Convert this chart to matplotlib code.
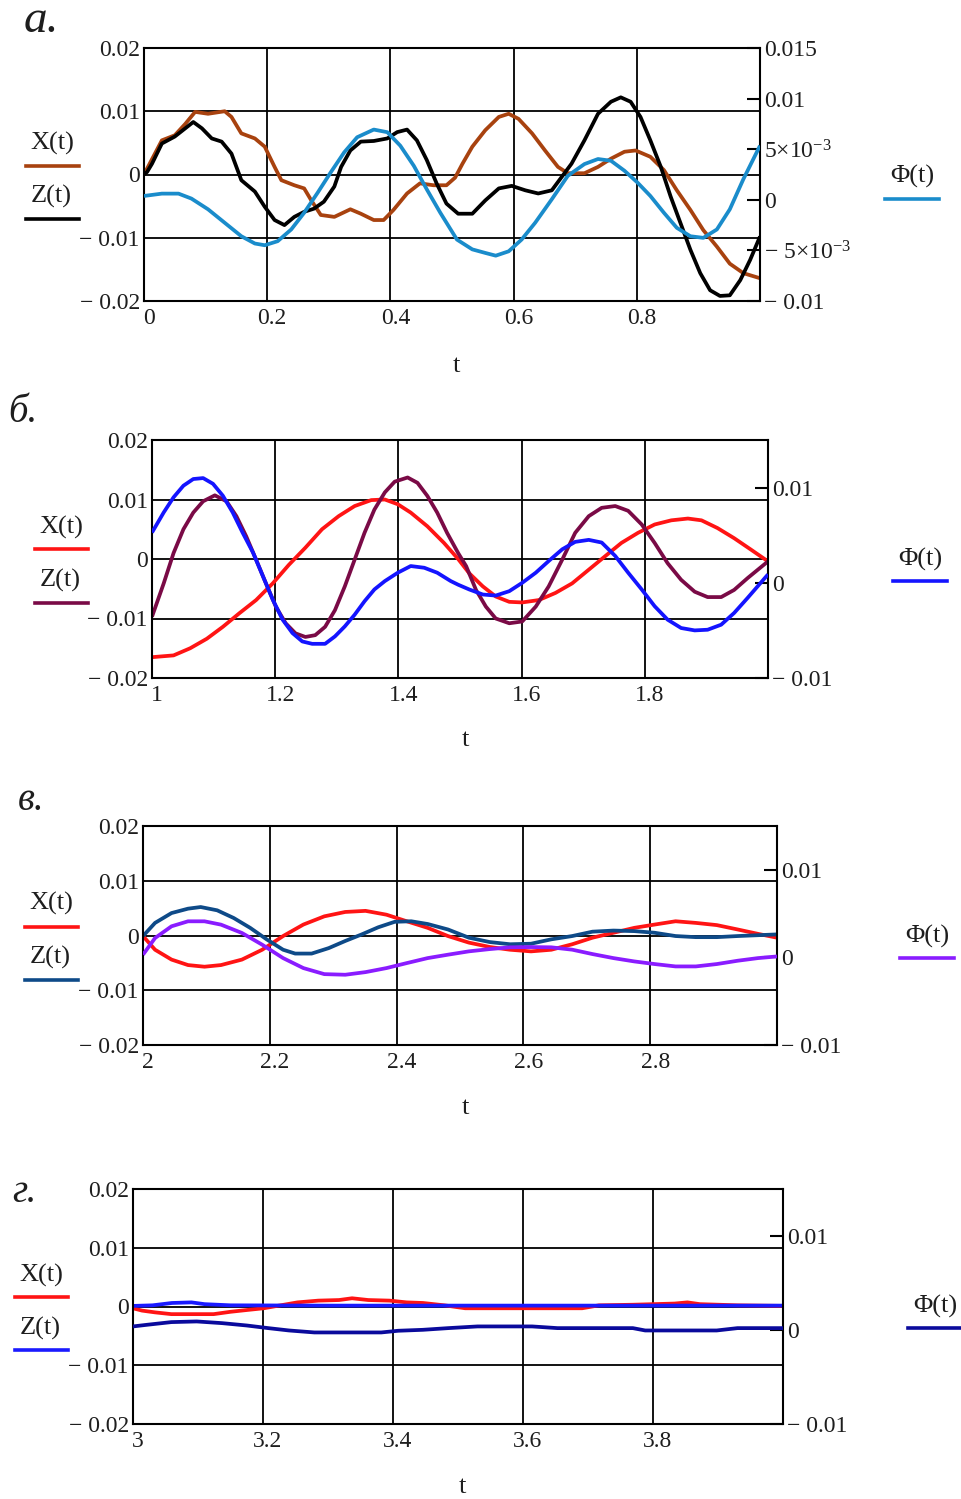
import matplotlib
matplotlib.use("Agg")
import matplotlib.pyplot as plt
from matplotlib.lines import Line2D
from matplotlib.transforms import ScaledTranslation

plt.rcParams['font.family'] = ['Liberation Serif', 'DejaVu Serif']
plt.rcParams['mathtext.fontset'] = 'custom'
plt.rcParams['mathtext.rm'] = 'Liberation Serif'
plt.rcParams['mathtext.it'] = 'Liberation Serif:italic'

# ---------------- DATA ----------------
# Panel a  (t in 0..1)
ta_X = [0.0, 0.029, 0.05, 0.067, 0.083, 0.104, 0.131, 0.142, 0.158, 0.18, 0.196, 0.212, 0.223, 0.244,
        0.26, 0.271, 0.287, 0.309, 0.335, 0.352, 0.373, 0.389, 0.405, 0.427, 0.448, 0.47, 0.491, 0.505,
        0.517, 0.533, 0.554, 0.576, 0.592, 0.608, 0.63, 0.651, 0.672, 0.688, 0.715, 0.737, 0.758, 0.78,
        0.798, 0.822, 0.844, 0.865, 0.887, 0.908, 0.93, 0.951, 0.973, 1.0]
Xa = [0.0, 0.0054, 0.0062, 0.0080, 0.0099, 0.0096, 0.0100, 0.0091, 0.0065, 0.0057, 0.0044, 0.0012, -0.0009,
      -0.0017, -0.0022, -0.0040, -0.0064, -0.0067, -0.0055, -0.0062, -0.0072, -0.0072, -0.0056, -0.0030,
      -0.0014, -0.0017, -0.0017, -0.0005, 0.0017, 0.0044, 0.0070, 0.0091, 0.0096, 0.0088, 0.0065, 0.0038,
      0.0012, 0.0002, 0.0002, 0.0012, 0.0025, 0.0036, 0.0038, 0.0028, 0.0007, -0.0025, -0.0056, -0.0088,
      -0.0114, -0.0141, -0.0156, -0.0164]
ta_Z = [0.0, 0.005, 0.013, 0.029, 0.05, 0.067, 0.08, 0.094, 0.11, 0.126, 0.142, 0.158, 0.18, 0.196, 0.212,
        0.228, 0.244, 0.26, 0.276, 0.292, 0.309, 0.32, 0.335, 0.352, 0.373, 0.395, 0.411, 0.427, 0.443,
        0.459, 0.475, 0.491, 0.51, 0.533, 0.554, 0.576, 0.597, 0.619, 0.64, 0.662, 0.678, 0.694, 0.715,
        0.737, 0.758, 0.774, 0.79, 0.806, 0.822, 0.839, 0.855, 0.871, 0.887, 0.903, 0.919, 0.935, 0.951,
        0.968, 0.984, 1.0]
Za = [0.0, 0.0004, 0.0017, 0.0049, 0.0060, 0.0073, 0.0083, 0.0073, 0.0057, 0.0052, 0.0033, -0.0009,
      -0.0027, -0.0051, -0.0072, -0.0080, -0.0067, -0.0059, -0.0054, -0.0043, -0.0019, 0.0012, 0.0038,
      0.0052, 0.0053, 0.0057, 0.0067, 0.0071, 0.0054, 0.0023, -0.0014, -0.0046, -0.0062, -0.0062, -0.0041,
      -0.0022, -0.0018, -0.0025, -0.0030, -0.0025, -0.0004, 0.0017, 0.0054, 0.0096, 0.0115, 0.0122, 0.0115,
      0.0091, 0.0054, 0.0012, -0.0035, -0.0077, -0.0119, -0.0156, -0.0183, -0.0192, -0.0191, -0.0167,
      -0.0135, -0.0098]
ta_P = [0.0, 0.029, 0.056, 0.077, 0.104, 0.131, 0.158, 0.18, 0.196, 0.217, 0.239, 0.26, 0.282, 0.303,
        0.325, 0.346, 0.373, 0.395, 0.416, 0.438, 0.459, 0.481, 0.508, 0.533, 0.554, 0.571, 0.592, 0.613,
        0.635, 0.662, 0.688, 0.715, 0.737, 0.758, 0.78, 0.801, 0.822, 0.844, 0.865, 0.887, 0.908, 0.93,
        0.951, 0.973, 1.0]
Pa = [0.00038, 0.00061, 0.00061, 0.00012, -0.00094, -0.00227, -0.00360, -0.00432, -0.00449, -0.00409,
      -0.00293, -0.00128, 0.00071, 0.00270, 0.00469, 0.00618, 0.00694, 0.00668, 0.00535, 0.00336, 0.00104,
      -0.00128, -0.00393, -0.00490, -0.00525, -0.00552, -0.00509, -0.00393, -0.00227, 0.00005, 0.00237,
      0.00353, 0.00403, 0.00386, 0.00287, 0.00171, 0.00038, -0.00128, -0.00277, -0.00360, -0.00376,
      -0.00293, -0.00094, 0.00204, 0.00535]

# Panel б  (t in 1..2)
tb_X = [1.0, 1.035, 1.062, 1.089, 1.115, 1.142, 1.169, 1.196, 1.222, 1.249, 1.276, 1.303, 1.329, 1.356,
        1.378, 1.399, 1.42, 1.447, 1.474, 1.497, 1.515, 1.537, 1.558, 1.58, 1.601, 1.628, 1.655, 1.682,
        1.709, 1.736, 1.762, 1.789, 1.816, 1.843, 1.87, 1.892, 1.918, 1.945, 1.972, 2.0]
Xb = [-0.0165, -0.0162, -0.0150, -0.0134, -0.0114, -0.0091, -0.0069, -0.0041, -0.0010, 0.0019, 0.0050,
      0.0072, 0.0089, 0.0099, 0.0100, 0.0092, 0.0078, 0.0055, 0.0027, 0.0000, -0.0024, -0.0046, -0.0063,
      -0.0072, -0.0073, -0.0069, -0.0057, -0.0041, -0.0018, 0.0005, 0.0027, 0.0044, 0.0058, 0.0065,
      0.0068, 0.0065, 0.0052, 0.0035, 0.0016, -0.0004]
tb_Z = [1.0, 1.019, 1.035, 1.051, 1.067, 1.083, 1.102, 1.121, 1.137, 1.153, 1.169, 1.185, 1.201, 1.217,
        1.233, 1.249, 1.265, 1.281, 1.297, 1.313, 1.329, 1.345, 1.361, 1.378, 1.394, 1.415, 1.431, 1.447,
        1.463, 1.479, 1.497, 1.51, 1.526, 1.542, 1.558, 1.58, 1.601, 1.623, 1.644, 1.666, 1.687, 1.709,
        1.73, 1.752, 1.773, 1.795, 1.816, 1.837, 1.859, 1.881, 1.902, 1.924, 1.945, 1.967, 2.0]
Zb = [-0.0097, -0.0041, 0.0010, 0.0050, 0.0078, 0.0097, 0.0107, 0.0097, 0.0072, 0.0038, -0.0001, -0.0041,
      -0.0080, -0.0108, -0.0125, -0.0131, -0.0128, -0.0114, -0.0086, -0.0046, -0.0001, 0.0044, 0.0083,
      0.0112, 0.0130, 0.0137, 0.0128, 0.0106, 0.0078, 0.0044, 0.0010, -0.0012, -0.0052, -0.0080, -0.0100,
      -0.0108, -0.0105, -0.0080, -0.0046, -0.0001, 0.0044, 0.0072, 0.0086, 0.0089, 0.0081, 0.0058, 0.0027,
      -0.0007, -0.0035, -0.0055, -0.0064, -0.0064, -0.0052, -0.0032, -0.0004]
tb_P = [1.0, 1.019, 1.035, 1.051, 1.067, 1.083, 1.099, 1.115, 1.131, 1.147, 1.164, 1.18, 1.196, 1.212,
        1.228, 1.244, 1.26, 1.281, 1.297, 1.313, 1.329, 1.345, 1.361, 1.378, 1.399, 1.42, 1.442, 1.463,
        1.485, 1.497, 1.515, 1.537, 1.558, 1.58, 1.601, 1.623, 1.644, 1.666, 1.687, 1.709, 1.73, 1.752,
        1.773, 1.795, 1.816, 1.837, 1.859, 1.881, 1.902, 1.924, 1.945, 1.967, 2.0]
Pb = [0.00528, 0.00739, 0.00898, 0.01020, 0.01090, 0.01100, 0.01040, 0.00915, 0.00739, 0.00528, 0.00317,
      0.00070, -0.00176, -0.00387, -0.00528, -0.00616, -0.00641, -0.00641, -0.00563, -0.00458, -0.00335,
      -0.00194, -0.00070, 0.00018, 0.00106, 0.00176, 0.00158, 0.00106, 0.00018, -0.00020, -0.00070,
      -0.00123, -0.00134, -0.00088, 0.00000, 0.00106, 0.00229, 0.00352, 0.00430, 0.00451, 0.00423,
      0.00282, 0.00106, -0.00070, -0.00246, -0.00387, -0.00475, -0.00500, -0.00493, -0.00440, -0.00317,
      -0.00158, 0.00088]

# Panel в  (t in 2..3)
tc_X = [2.0, 2.019, 2.045, 2.071, 2.097, 2.123, 2.156, 2.188, 2.221, 2.253, 2.286, 2.319, 2.351, 2.384,
        2.416, 2.449, 2.481, 2.514, 2.547, 2.579, 2.612, 2.644, 2.677, 2.709, 2.742, 2.775, 2.807, 2.84,
        2.872, 2.905, 2.938, 2.97, 3.0]
Xc = [-0.0001, -0.0026, -0.0044, -0.0054, -0.0057, -0.0054, -0.0044, -0.0026, -0.0001, 0.0020, 0.0035,
      0.0043, 0.0045, 0.0038, 0.0026, 0.0014, -0.0001, -0.0013, -0.0021, -0.0026, -0.0029, -0.0026,
      -0.0016, -0.0004, 0.0005, 0.0014, 0.0020, 0.0026, 0.0023, 0.0019, 0.0011, 0.0003, -0.0004]
tc_Z = [2.0, 2.019, 2.045, 2.071, 2.091, 2.117, 2.143, 2.169, 2.195, 2.221, 2.24, 2.266, 2.293, 2.319,
        2.345, 2.371, 2.397, 2.423, 2.449, 2.481, 2.514, 2.547, 2.579, 2.612, 2.644, 2.677, 2.709, 2.742,
        2.775, 2.807, 2.84, 2.872, 2.905, 2.938, 3.0]
Zc = [-0.0001, 0.0023, 0.0041, 0.0049, 0.0052, 0.0046, 0.0032, 0.0014, -0.0007, -0.0026, -0.0033, -0.0033,
      -0.0023, -0.0010, 0.0002, 0.0015, 0.0025, 0.0026, 0.0021, 0.0011, -0.0004, -0.0012, -0.0016, -0.0015,
      -0.0007, -0.0001, 0.0007, 0.0009, 0.0008, 0.0005, -0.0001, -0.0003, -0.0003, -0.0001, 0.0002]
tc_P = [2.0, 2.019, 2.045, 2.071, 2.097, 2.123, 2.156, 2.188, 2.221, 2.253, 2.286, 2.319, 2.351, 2.384,
        2.416, 2.449, 2.481, 2.514, 2.547, 2.579, 2.612, 2.644, 2.677, 2.709, 2.742, 2.775, 2.807, 2.84,
        2.872, 2.905, 2.938, 2.97, 3.0]
Pc = [0.00031, 0.00221, 0.00355, 0.00412, 0.00412, 0.00374, 0.00279, 0.00145, -0.00008, -0.00122,
      -0.00191, -0.00198, -0.00168, -0.00122, -0.00065, -0.00008, 0.00031, 0.00069, 0.00095, 0.00115,
      0.00118, 0.00115, 0.00088, 0.00038, -0.00008, -0.00046, -0.00076, -0.00103, -0.00103, -0.00076,
      -0.00038, -0.00008, 0.00011]

# Panel г  (t in 3..4)
td_X = [3.0, 3.014, 3.034, 3.059, 3.092, 3.124, 3.15, 3.175, 3.201, 3.227, 3.253, 3.285, 3.317, 3.337,
        3.362, 3.395, 3.421, 3.446, 3.479, 3.511, 3.575, 3.64, 3.691, 3.717, 3.769, 3.833, 3.853, 3.872,
        3.93, 4.0]
Xd = [-0.0003, -0.0007, -0.0010, -0.0013, -0.0013, -0.0013, -0.0009, -0.0006, -0.0003, 0.0002, 0.0007,
      0.0010, 0.0011, 0.0014, 0.0011, 0.0010, 0.0007, 0.0006, 0.0002, -0.0003, -0.0003, -0.0003, -0.0003,
      0.0002, 0.0003, 0.0005, 0.0007, 0.0004, 0.0002, 0.0001]
td_Z = [3.0, 3.03, 3.06, 3.09, 3.11, 3.15, 3.3, 3.5, 3.7, 3.9, 4.0]
Zd = [0.0001, 0.0002, 0.0006, 0.0007, 0.0004, 0.0002, 0.00015, 0.00015, 0.00015, 0.00015, 0.00015]
td_P = [3.0, 3.021, 3.059, 3.098, 3.137, 3.175, 3.208, 3.24, 3.279, 3.33, 3.382, 3.408, 3.446, 3.485,
        3.53, 3.575, 3.614, 3.653, 3.704, 3.769, 3.788, 3.833, 3.898, 3.93, 4.0]
Pd = [0.00038, 0.00055, 0.00084, 0.00091, 0.00073, 0.00048, 0.00020, -0.00005, -0.00026, -0.00026,
      -0.00026, -0.00008, 0.00002, 0.00020, 0.00038, 0.00038, 0.00038, 0.00020, 0.00020, 0.00020, -0.00005,
      -0.00005, -0.00005, 0.00020, 0.00020]

left_ticks = [-0.02, -0.01, 0.0, 0.01, 0.02]
left_labels = ['− 0.02', '− 0.01', '0', '0.01', '0.02']
right_ticks_a = [-0.01, -0.005, 0.0, 0.005, 0.01, 0.015]
right_labels_a = ['− 0.01', r'− $5{\times}10^{-3}$', '0', r'$5{\times}10^{-3}$', '0.01', '0.015']
right_ticks = [-0.01, 0.0, 0.01]
right_labels = ['− 0.01', '0', '0.01']

# ---------------- LAYOUT ----------------
W, H = 962, 1499
fig = plt.figure(figsize=(W / 100, H / 100), dpi=100)
fig.patch.set_facecolor('white')
TXT = '#1e1e1e'


def rect(l, r, t, b):
    return [l / W, 1 - b / H, (r - l) / W, (b - t) / H]


def ftext(x, y, s, **kw):
    fig.text(x / W, 1 - y / H, s, **kw)


def fline(x1, x2, y, color, lw=2.6):
    fig.add_artist(Line2D([x1 / W, x2 / W], [1 - y / H, 1 - y / H], color=color, lw=lw,
                          transform=fig.transFigure))


panels = [
    dict(box=(144, 760, 48, 301), t0=0, xt=[0, 0.2, 0.4, 0.6, 0.8], xl=['0', '0.2', '0.4', '0.6', '0.8'],
         series=[(ta_X, Xa, '#A8420F'), (ta_Z, Za, '#000000')], phi=(ta_P, Pa, '#1A8CCB'),
         rt=right_ticks_a, rl=right_labels_a, letter='а.', lpos=(24, 21), lsize=34,
         leg=[(27, 143, 166), (27, 196, 219)], phileg=(886, 176, 199), tlab=(456, 366)),
    dict(box=(152, 768, 440, 678), t0=1, xt=[1, 1.2, 1.4, 1.6, 1.8], xl=['1', '1.2', '1.4', '1.6', '1.8'],
         series=[(tb_X, Xb, '#FF1414'), (tb_Z, Zb, '#7A0A46')], phi=(tb_P, Pb, '#1414FF'),
         rt=right_ticks, rl=right_labels, letter='б.', lpos=(8, 413), lsize=28,
         leg=[(36, 527, 549), (36, 580, 603)], phileg=(894, 559, 581), tlab=(465, 740)),
    dict(box=(143, 777, 826, 1045), t0=2, xt=[2, 2.2, 2.4, 2.6, 2.8], xl=['2', '2.2', '2.4', '2.6', '2.8'],
         series=[(tc_X, Xc, '#FF1414'), (tc_Z, Zc, '#0E4A88')], phi=(tc_P, Pc, '#8A1CFF'),
         rt=right_ticks, rl=right_labels, letter='в.', lpos=(18, 800), lsize=28,
         leg=[(26, 903, 927), (26, 957, 980)], phileg=(901, 936, 958), tlab=(465, 1108)),
    dict(box=(133, 783, 1189, 1424), t0=3, xt=[3, 3.2, 3.4, 3.6, 3.8], xl=['3', '3.2', '3.4', '3.6', '3.8'],
         series=[(td_X, Xd, '#FF1414'), (td_Z, Zd, '#1A1AFF')], phi=(td_P, Pd, '#0A0A9C'),
         rt=right_ticks, rl=right_labels, letter='г.', lpos=(12, 1192), lsize=28,
         leg=[(16, 1275, 1297), (16, 1328, 1350)], phileg=(909, 1306, 1328), tlab=(462, 1487)),
]

TICK_FS = 17
LEG_FS = 19
LW = 2.7

for p in panels:
    l, r, t, b = p['box']
    ax = fig.add_axes(rect(l, r, t, b))
    ax.set_xlim(p['t0'], p['t0'] + 1)
    ax.set_ylim(-0.02, 0.02)
    ax.set_yticks(left_ticks)
    ax.set_yticklabels(left_labels)
    ax.set_xticks(p['xt'])
    ax.set_xticklabels(p['xl'])
    ax.grid(True, color='black', lw=1.3)
    ax.tick_params(axis='both', length=0, labelsize=TICK_FS, colors=TXT)
    ax.tick_params(axis='y', pad=3)
    ax.tick_params(axis='x', pad=5)
    for lab in ax.get_xticklabels():
        lab.set_transform(lab.get_transform() + ScaledTranslation(5 / 100, 0, fig.dpi_scale_trans))
    for sp in ax.spines.values():
        sp.set_linewidth(1.5)
        sp.set_color('black')
    for (tt, vv, col) in p['series']:
        ax.plot(tt, vv, color=col, lw=LW, solid_joinstyle='round', solid_capstyle='butt')

    ax2 = ax.twinx()
    ax2.set_ylim(-0.01, 0.015)
    ax2.set_yticks(p['rt'])
    ax2.set_yticklabels(p['rl'])
    ax2.tick_params(axis='y', direction='in', length=9.5, width=1.5, pad=3, labelsize=TICK_FS, colors=TXT)
    ax2.tick_params(axis='y', color='black')
    for sp in ax2.spines.values():
        sp.set_visible(False)
    pt, pv, pc = p['phi']
    ax2.plot(pt, pv, color=pc, lw=LW, solid_joinstyle='round', solid_capstyle='butt')

    # panel letter
    lx, ly = p['lpos']
    ftext(lx, ly, p['letter'], fontsize=p['lsize'], style='italic', color=TXT, va='center', ha='left')
    # legends
    (x0, ty0, ly0), (x1, ty1, ly1) = p['leg']
    c_x = p['series'][0][2]
    c_z = p['series'][1][2]
    ftext(x0 + 25, ty0, 'X(t)', fontsize=LEG_FS, color=TXT, ha='center', va='center')
    fline(x0 - 1, x0 + 52, ly0, c_x)
    ftext(x1 + 24, ty1, 'Z(t)', fontsize=LEG_FS, color=TXT, ha='center', va='center')
    fline(x1 - 1, x1 + 52, ly1, c_z)
    px, pty, ply = p['phileg']
    ftext(px + 26, pty, 'Φ(t)', fontsize=LEG_FS, color=TXT, ha='center', va='center')
    fline(px - 1, px + 53, ply, pc)
    # axis label t
    tx, ty = p['tlab']
    ftext(tx, ty, 't', fontsize=LEG_FS, color=TXT, ha='center', va='center')

fig.savefig('out.png', dpi=100, facecolor='white')
